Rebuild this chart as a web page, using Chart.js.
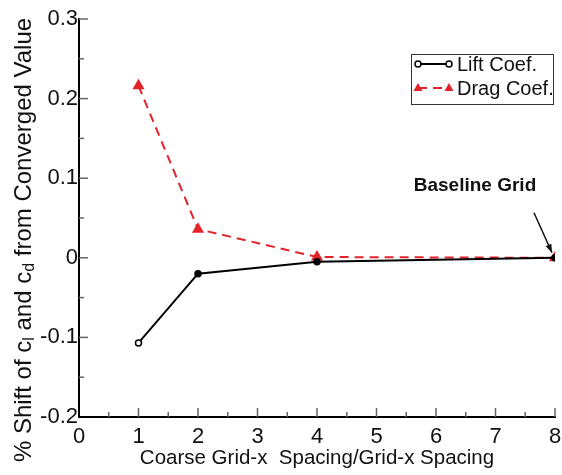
<!DOCTYPE html>
<html>
<head>
<meta charset="utf-8">
<script src="https://cdn.jsdelivr.net/npm/chart.js@4/dist/chart.umd.min.js"></script>
<style>
  html, body { margin: 0; padding: 0; background: #fff; }
  #wrap { width: 562px; height: 475px; position: relative; }
</style>
</head>
<body>
<div id="wrap"><canvas id="chart"></canvas></div>
<script>
// grid refinement ratio (coarse spacing / grid spacing)
const spacingRatio = [1, 2, 4, 8]
// % shift from converged value
const liftShift = [-0.107, -0.020, -0.005, 0]
const dragShift = [0.216, 0.036, 0.001, 0]

const xMajorTicks = [0, 1, 2, 3, 4, 5, 6, 7, 8]
const yMajorTicks = [-0.2, -0.1, 0, 0.1, 0.2, 0.3]
const yTickLabels = ['-0.2', '-0.1', '0', '0.1', '0.2', '0.3']

const seriesNames = ['Lift Coef.', 'Drag Coef.']
const xTitle = 'Coarse Grid-x  Spacing/Grid-x Spacing'
const annotationText = 'Baseline Grid'

const FONT = '"Liberation Sans", Arial, Helvetica, sans-serif'
const RED = '#e3232b'

// inward major + minor ticks like the original plot
const tickMarks = {
  id: 'tickMarks',
  afterDraw(chart) {
    const ctx = chart.ctx
    const area = chart.chartArea
    const xs = chart.scales.x, ys = chart.scales.y
    ctx.save()
    ctx.strokeStyle = '#666'
    ctx.lineWidth = 1.5
    for (let i = 0; i < xMajorTicks.length; i++) {
      const v = xMajorTicks[i]
      const px = xs.getPixelForValue(v)
      if (i > 0) {
        ctx.beginPath(); ctx.moveTo(px, area.bottom); ctx.lineTo(px, area.bottom - 9); ctx.stroke()
      }
      if (i < xMajorTicks.length - 1) {
        const mx = xs.getPixelForValue((v + xMajorTicks[i + 1]) / 2)
        ctx.beginPath(); ctx.moveTo(mx, area.bottom); ctx.lineTo(mx, area.bottom - 5); ctx.stroke()
      }
    }
    for (let i = 0; i < yMajorTicks.length; i++) {
      const v = yMajorTicks[i]
      const py = ys.getPixelForValue(v)
      if (i > 0) {
        ctx.beginPath(); ctx.moveTo(area.left, py); ctx.lineTo(area.left + 9, py); ctx.stroke()
      }
      if (i < yMajorTicks.length - 1) {
        const my = ys.getPixelForValue((v + yMajorTicks[i + 1]) / 2)
        ctx.beginPath(); ctx.moveTo(area.left, my); ctx.lineTo(area.left + 5, my); ctx.stroke()
      }
    }
    ctx.restore()
  }
}

// rotated y title with subscripts
const yTitle = {
  id: 'yTitle',
  afterDraw(chart) {
    const { ctx, chartArea } = chart
    const parts = [
      ['% Shift of c', false], ['l', true], [' and c', false], ['d', true], [' from Converged Value', false]
    ]
    const big = '24px ' + FONT, small = '16px ' + FONT
    ctx.save()
    let total = 0
    parts.forEach(([t, sub]) => { ctx.font = sub ? small : big; total += ctx.measureText(t).width })
    ctx.translate(24, (chartArea.top + chartArea.bottom) / 2 + 22)
    ctx.rotate(-Math.PI / 2)
    ctx.fillStyle = '#111'
    ctx.textBaseline = 'middle'
    let cx = -total / 2
    parts.forEach(([t, sub]) => {
      ctx.font = sub ? small : big
      ctx.fillText(t, cx, sub ? 6 : 0)
      cx += ctx.measureText(t).width
    })
    ctx.restore()
  }
}

// boxed legend and the baseline grid callout
const extras = {
  id: 'extras',
  afterDraw(chart) {
    const { ctx, chartArea, scales: { x, y } } = chart
    ctx.save()
    // legend
    const bx = chartArea.right - 144, by = chartArea.top + 35, bw = 142, bh = 50
    ctx.fillStyle = '#fff'
    ctx.fillRect(bx, by, bw, bh)
    ctx.strokeStyle = '#333'
    ctx.lineWidth = 1
    ctx.strokeRect(bx + 0.5, by + 0.5, bw, bh)
    chart.data.datasets.forEach((ds, i) => {
      const ly = by + 10 + i * 24
      const x0 = bx + 7, x1 = bx + 38
      ctx.strokeStyle = ds.borderColor
      ctx.lineWidth = 2
      ctx.setLineDash(ds.borderDash || [])
      ctx.beginPath(); ctx.moveTo(x0, ly); ctx.lineTo(x1, ly); ctx.stroke()
      ctx.setLineDash([])
      ;[x0, x1].forEach(px => {
        if (ds.pointStyle === 'triangle') {
          ctx.fillStyle = ds.borderColor
          ctx.beginPath()
          ctx.moveTo(px, ly - 5); ctx.lineTo(px + 4.5, ly + 3); ctx.lineTo(px - 4.5, ly + 3)
          ctx.closePath(); ctx.fill()
        } else {
          ctx.fillStyle = '#fff'
          ctx.lineWidth = 1.5
          ctx.beginPath(); ctx.arc(px, ly, 3, 0, Math.PI * 2); ctx.fill(); ctx.stroke()
        }
      })
      ctx.fillStyle = '#111'
      ctx.font = '20px ' + FONT
      ctx.textBaseline = 'middle'
      ctx.textAlign = 'left'
      ctx.fillText(ds.label, bx + 46, ly + 1)
    })
    // annotation
    const px = x.getPixelForValue(spacingRatio[spacingRatio.length - 1])
    const py = y.getPixelForValue(dragShift[dragShift.length - 1])
    ctx.fillStyle = '#111'
    ctx.font = 'bold 19px ' + FONT
    ctx.textAlign = 'center'
    ctx.textBaseline = 'middle'
    ctx.fillText(annotationText, px - 80, py - 72)
    const ax0 = px - 21, ay0 = py - 45, ax1 = px - 3, ay1 = py - 5
    ctx.strokeStyle = '#111'
    ctx.lineWidth = 1.5
    ctx.beginPath(); ctx.moveTo(ax0, ay0); ctx.lineTo(ax1, ay1); ctx.stroke()
    const ang = Math.atan2(ay1 - ay0, ax1 - ax0)
    ctx.fillStyle = '#111'
    ctx.beginPath()
    ctx.moveTo(ax1, ay1)
    ctx.lineTo(ax1 - 9 * Math.cos(ang - 0.35), ay1 - 9 * Math.sin(ang - 0.35))
    ctx.lineTo(ax1 - 9 * Math.cos(ang + 0.35), ay1 - 9 * Math.sin(ang + 0.35))
    ctx.closePath(); ctx.fill()
    ctx.restore()
  }
}

new Chart(document.getElementById('chart'), {
  type: 'line',
  data: {
    datasets: [
      {
        label: seriesNames[0],
        data: spacingRatio.map((v, i) => ({ x: v, y: liftShift[i] })),
        borderColor: '#000',
        borderWidth: 2,
        pointStyle: 'circle',
        pointRadius: 3,
        pointBorderWidth: 1.5,
        pointBackgroundColor: ['#fff', '#000', '#000', '#000'],
        pointBorderColor: '#000',
        tension: 0,
      },
      {
        label: seriesNames[1],
        data: spacingRatio.map((v, i) => ({ x: v, y: dragShift[i] })),
        borderColor: RED,
        borderWidth: 2,
        borderDash: [9, 6],
        pointStyle: 'triangle',
        pointRadius: 5,
        pointBackgroundColor: RED,
        pointBorderColor: RED,
        tension: 0,
      },
    ],
  },
  options: {
    responsive: true,
    maintainAspectRatio: false,
    animation: false,
    layout: { padding: { top: 19, right: 5, bottom: 0, left: 0 } },
    plugins: { legend: { display: false }, tooltip: { enabled: false } },
    scales: {
      x: {
        type: 'linear',
        min: 0,
        max: 8,
        afterBuildTicks: (scale) => { scale.ticks = xMajorTicks.map(v => ({ value: v })) },
        afterFit: (scale) => { scale.height = 58; scale.paddingLeft = 0; scale.paddingRight = 0 },
        grid: { drawOnChartArea: false, drawTicks: false },
        border: { display: true, color: '#000', width: 2 },
        ticks: {
          color: '#111',
          padding: 7,
          font: { family: FONT, size: 22 },
          callback: (v) => String(v),
        },
        title: {
          display: true,
          text: xTitle,
          color: '#111',
          font: { family: FONT, size: 20.5 },
          padding: { top: 0, bottom: 4 },
        },
      },
      y: {
        type: 'linear',
        min: -0.2,
        max: 0.3,
        afterBuildTicks: (scale) => { scale.ticks = yMajorTicks.map(v => ({ value: v })) },
        afterFit: (scale) => { scale.width = 79; scale.paddingTop = 0; scale.paddingBottom = 0 },
        grid: { drawOnChartArea: false, drawTicks: false },
        border: { display: true, color: '#000', width: 2 },
        ticks: {
          color: '#111',
          padding: 1,
          font: { family: FONT, size: 22 },
          callback: (v) => yTickLabels[yMajorTicks.findIndex(t => Math.abs(t - v) < 1e-9)],
        },
      },
    },
  },
  plugins: [tickMarks, yTitle, extras],
})
</script>
</body>
</html>
